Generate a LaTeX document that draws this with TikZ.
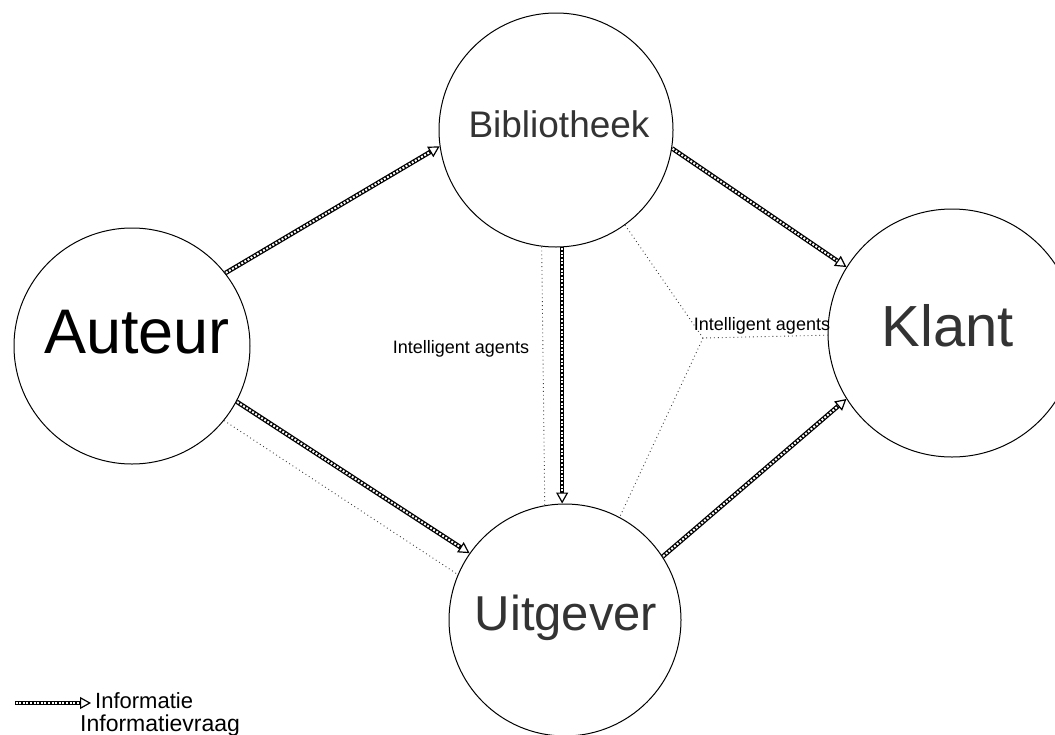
\documentclass[tikz,border=0pt]{standalone}
\usepackage{fontspec}
\setmainfont{Liberation Sans}
\usetikzlibrary{arrows.meta}
\begin{document}
\begin{tikzpicture}[x=1pt,y=-1pt,
  ent/.style={circle, draw, line width=1pt, inner sep=0pt},
  info/.style={line width=4.5pt, -{Triangle[open, length=11pt, width=12pt, line width=1.2pt]},
    postaction={draw=white, -, line width=2pt, dash pattern=on 2pt off 1.6pt, shorten >=11pt, shorten <=0.6pt}},
  ask/.style={line width=0.9pt, black!75, dash pattern=on 0.9pt off 3pt},
  lbl/.style={inner sep=0pt, anchor=base},
  big/.style={lbl, font=\fontsize{#1}{#1}\selectfont}
]
\useasboundingbox (0,0) rectangle (1055,734);
% entities
\node[ent, minimum size=234pt] (bib) at (556,130) {};
\node[ent, minimum size=236pt] (aut) at (132,346) {};
\node[ent, minimum size=248pt] (kla) at (952,333) {};
\node[ent, minimum size=232pt] (uit) at (565,620) {};
\node[big=37, text=black!80] (tbib) at (559,137) {Bibliotheek};
\node[big=63] (taut) at (137,353) {Auteur};
\node[big=58, text=black!80] (tkla) at (948,346) {Klant};
\node[big=49, text=black!80] (tuit) at (566,630) {Uitgever};
% information flows
\draw[info] (aut.38) -- (bib.188);
\draw[info] (bib.-9) -- (kla.148);
\draw[info] (aut.-28) -- (uit.145);
\draw[info] (bib.-87) -- (bib.-87 |- uit.north);
\draw[info] (uit.33) -- (kla.212);
% information requests
\draw[ask] (aut.-39) -- (uit.157);
\draw[ask] (bib.-97) -- (uit.100);
\coordinate (j) at (703,338);
\draw[ask] (bib.-54) -- (j) -- (kla.181);
\draw[ask] (j) -- (uit.62);
\node[big=18] (ia1) at (461,353) {Intelligent agents};
\node[big=18] (ia2) at (762,330) {Intelligent agents};
% legend
\coordinate (ls) at (15,703);
\coordinate (le) at (91,703);
\draw[info] (ls) -- (le);
\node[big=22, anchor=base west] (l1) at (95,708) {Informatie};
\node[big=23, anchor=base west] (l2) at (80,731) {Informatievraag};
\end{tikzpicture}
\end{document}
